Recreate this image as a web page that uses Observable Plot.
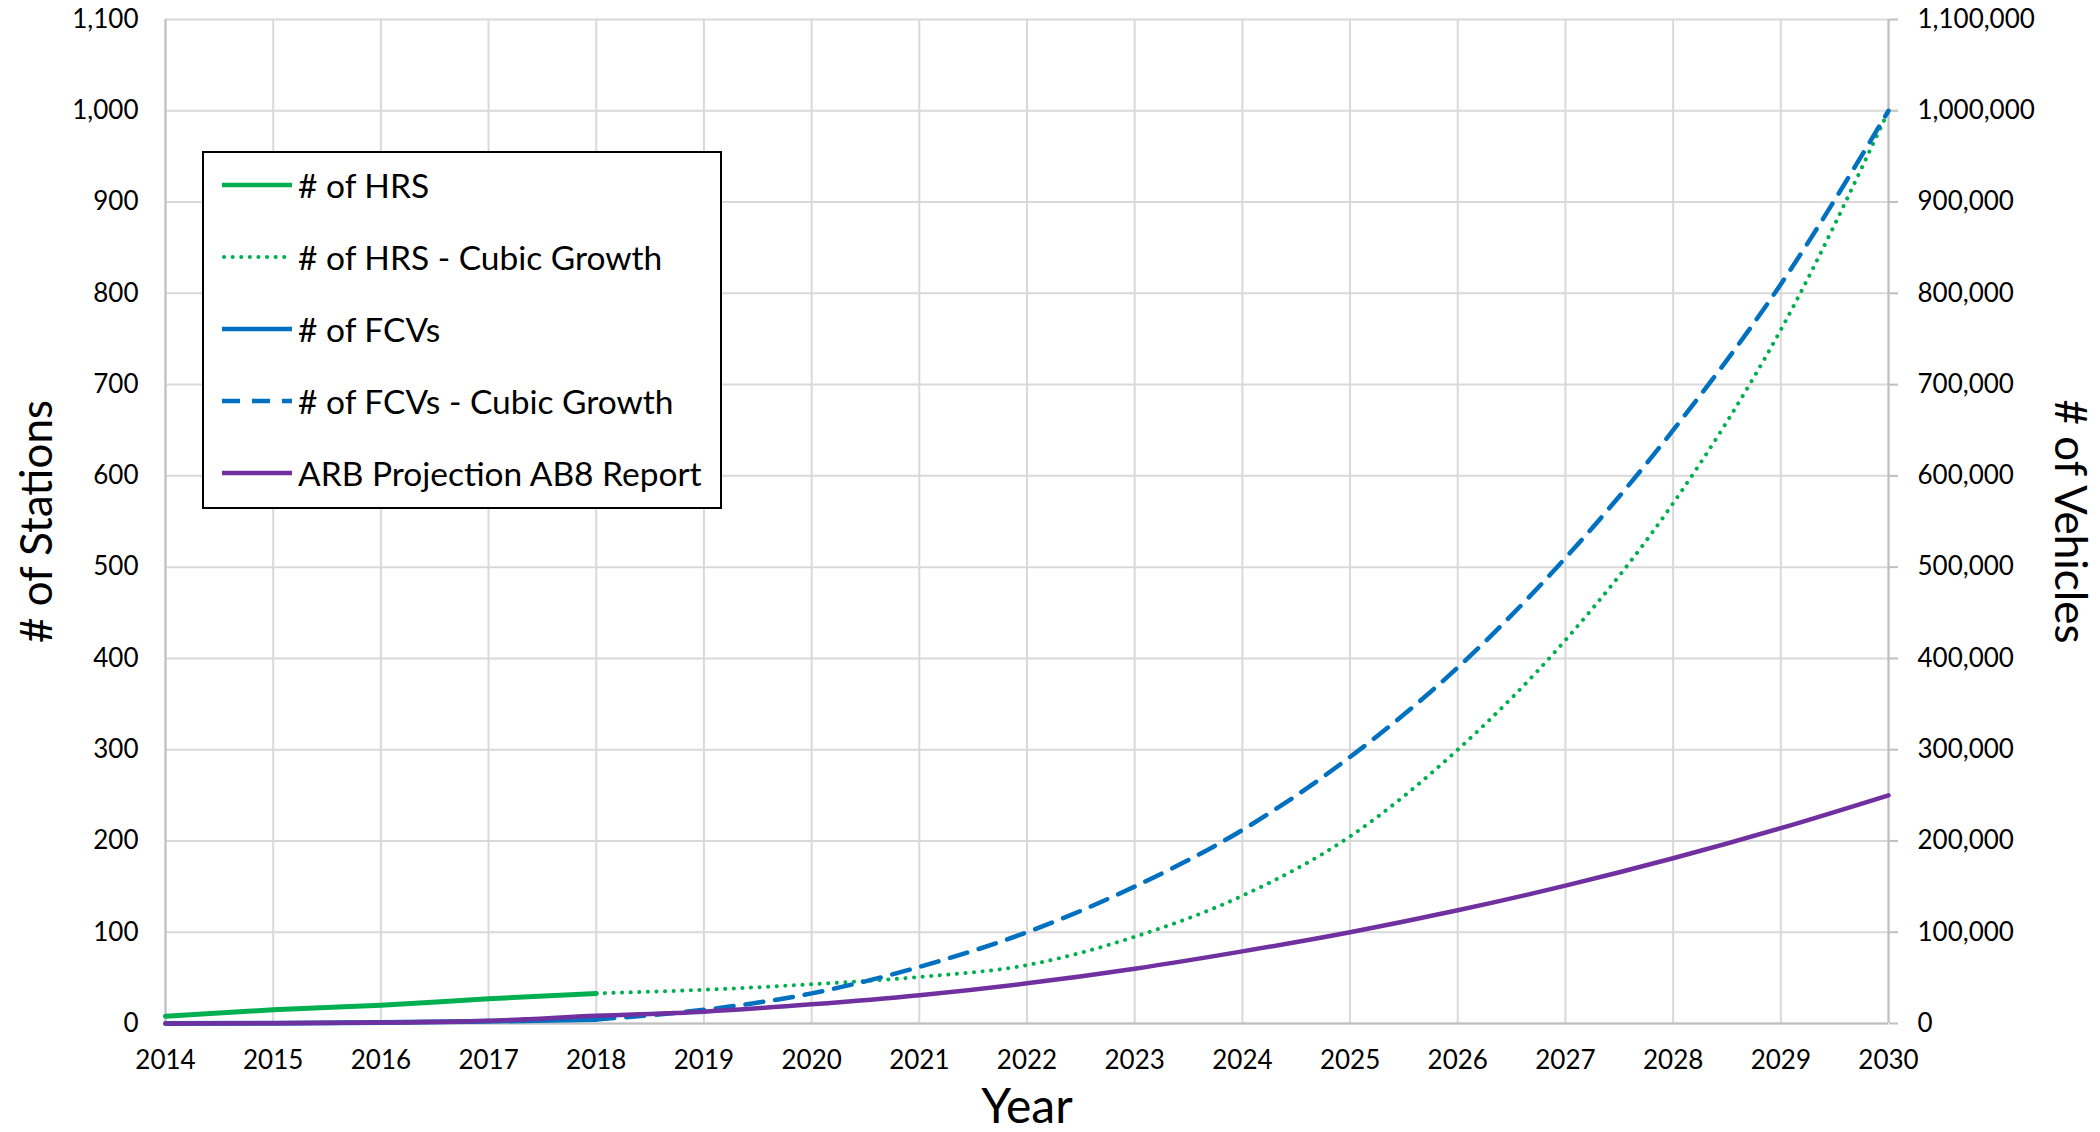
<!DOCTYPE html>
<html><head><meta charset="utf-8">
<script src="https://cdn.jsdelivr.net/npm/d3@7"></script>
<script src="https://cdn.jsdelivr.net/npm/@observablehq/plot@0.6"></script>
<style>
body{margin:0;background:#fff;}
#wrap{position:relative;width:2100px;height:1132px;font-family:Lato,"Open Sans",sans-serif;}
#legend{position:absolute;left:202px;top:151px;width:516px;height:354px;border:2px solid #000;background:#fff;}
.row{position:absolute;left:18px;height:40px;display:flex;align-items:center;font-size:33.5px;color:#000;white-space:nowrap;}
.row svg{margin-right:6px;}
</style></head>
<body><div id="wrap"></div>
<script>
// ---- data ----
const histYears = [2014, 2015, 2016, 2017, 2018];
const cubicYears = [2018, 2019, 2020, 2021, 2022, 2023, 2024, 2025, 2026, 2027, 2028, 2029, 2030];
const arbYears = [2014, 2015, 2016, 2017, 2018, 2019, 2020, 2021, 2022, 2023, 2024, 2025, 2026, 2027, 2028, 2029, 2030];
const hrsCount = [8, 15, 20, 27, 33];
const hrsCubic = [33, 37, 43, 51, 64, 95, 140, 205, 300, 420, 570, 760, 1000];
const fcvCount = [0, 200, 1000, 2500, 4500];
const fcvCubic = [4500, 15000, 33000, 62000, 100000, 150000, 212000, 292000, 390000, 510000, 650000, 810000, 1000000];
const arbProjection = [0, 200, 1000, 3000, 8500, 13000, 21000, 31000, 44000, 60000, 79000, 100000, 124000, 151000, 181000, 214000, 250000];
const stationTicks = [0, 100, 200, 300, 400, 500, 600, 700, 800, 900, 1000, 1100];
const yearTicks = [2014, 2015, 2016, 2017, 2018, 2019, 2020, 2021, 2022, 2023, 2024, 2025, 2026, 2027, 2028, 2029, 2030];
const seriesNames = ["# of HRS", "# of HRS - Cubic Growth", "# of FCVs", "# of FCVs - Cubic Growth", "ARB Projection AB8 Report"];
const seriesColors = ["#00B050", "#00B050", "#0070C0", "#0070C0", "#7030A0"];
const seriesDash = [null, "0.1 8.5", null, "18 12", null];

// tables
const zip = (xs, ys) => xs.map((x, i) => ({year: x, value: ys[i]}));
const hrsData = zip(histYears, hrsCount);
const hrsCubicData = zip(cubicYears, hrsCubic);
const fcvData = zip(histYears, fcvCount);
const fcvCubicData = zip(cubicYears, fcvCubic);
const arbData = zip(arbYears, arbProjection);
const fmt = d3.format(",");
const perK = d => d.value / 1000; // vehicles shown against the right axis (x1000)

const chart = Plot.plot({
  width: 2100, height: 1132,
  marginLeft: 165, marginRight: 212, marginTop: 19, marginBottom: 109,
  style: {fontFamily: "Lato, 'Open Sans', sans-serif", fontSize: "26px", color: "#000", background: "#fff"},
  x: {domain: [2014, 2030]},
  y: {domain: [0, 1100]},
  marks: [
    Plot.gridX(yearTicks, {stroke: "#d9d9d9", strokeOpacity: 1, strokeWidth: 2}),
    Plot.gridY(stationTicks, {stroke: "#d9d9d9", strokeOpacity: 1, strokeWidth: 2}),
    Plot.ruleX([2014, 2030], {stroke: "#bfbfbf", strokeWidth: 2}),
    Plot.ruleY([0], {stroke: "#bfbfbf", strokeWidth: 2}),
    Plot.axisX(yearTicks, {tickSize: 0, tickPadding: 27, tickFormat: d => String(d), label: null}),
    Plot.axisY(stationTicks, {anchor: "left", tickSize: 0, tickPadding: 27, tickFormat: fmt, label: null}),
    Plot.axisY(stationTicks, {anchor: "right", tickSize: 9, tickPadding: 20, stroke: "#bfbfbf", strokeWidth: 2, tickFormat: d => fmt(d * 1000), label: null}),
    Plot.line(hrsData, {x: "year", y: "value", stroke: seriesColors[0], strokeWidth: 5, curve: "monotone-x"}),
    Plot.line(hrsCubicData, {x: "year", y: "value", stroke: seriesColors[1], strokeWidth: 4, strokeDasharray: seriesDash[1], strokeLinecap: "round", curve: "monotone-x"}),
    Plot.line(fcvData, {x: "year", y: perK, stroke: seriesColors[2], strokeWidth: 5, curve: "monotone-x"}),
    Plot.line(fcvCubicData, {x: "year", y: perK, stroke: seriesColors[3], strokeWidth: 4.5, strokeDasharray: seriesDash[3], curve: "monotone-x"}),
    Plot.line(arbData, {x: "year", y: perK, stroke: seriesColors[4], strokeWidth: 4.5, curve: "monotone-x"}),
    Plot.text(["# of Stations"], {frameAnchor: "left", dx: -128, rotate: -90, fontSize: 44, textAnchor: "middle", lineAnchor: "middle"}),
    Plot.text(["# of Vehicles"], {frameAnchor: "right", dx: 181, rotate: 90, fontSize: 44, textAnchor: "middle", lineAnchor: "middle"}),
    Plot.text(["Year"], {frameAnchor: "bottom", dy: 84, fontSize: 48, textAnchor: "middle", lineAnchor: "middle"})
  ]
});
const wrap = document.getElementById("wrap");
wrap.appendChild(chart);

// legend
const legend = document.createElement("div");
legend.id = "legend";
seriesNames.forEach((name, i) => {
  const row = document.createElement("div");
  row.className = "row";
  row.style.top = (12 + i * 72) + "px";
  const dash = seriesDash[i] ? `stroke-dasharray="${seriesDash[i]}"` : "";
  const cap = i === 1 ? `stroke-linecap="round"` : "";
  const sw = i === 1 ? 4 : 4.5;
  row.innerHTML = `<svg width="70" height="10"><line x1="${i===1?2:0}" y1="5" x2="70" y2="5" stroke="${seriesColors[i]}" stroke-width="${sw}" ${dash} ${cap}/></svg><span>${name}</span>`;
  legend.appendChild(row);
});
wrap.appendChild(legend);
</script>
</body></html>
